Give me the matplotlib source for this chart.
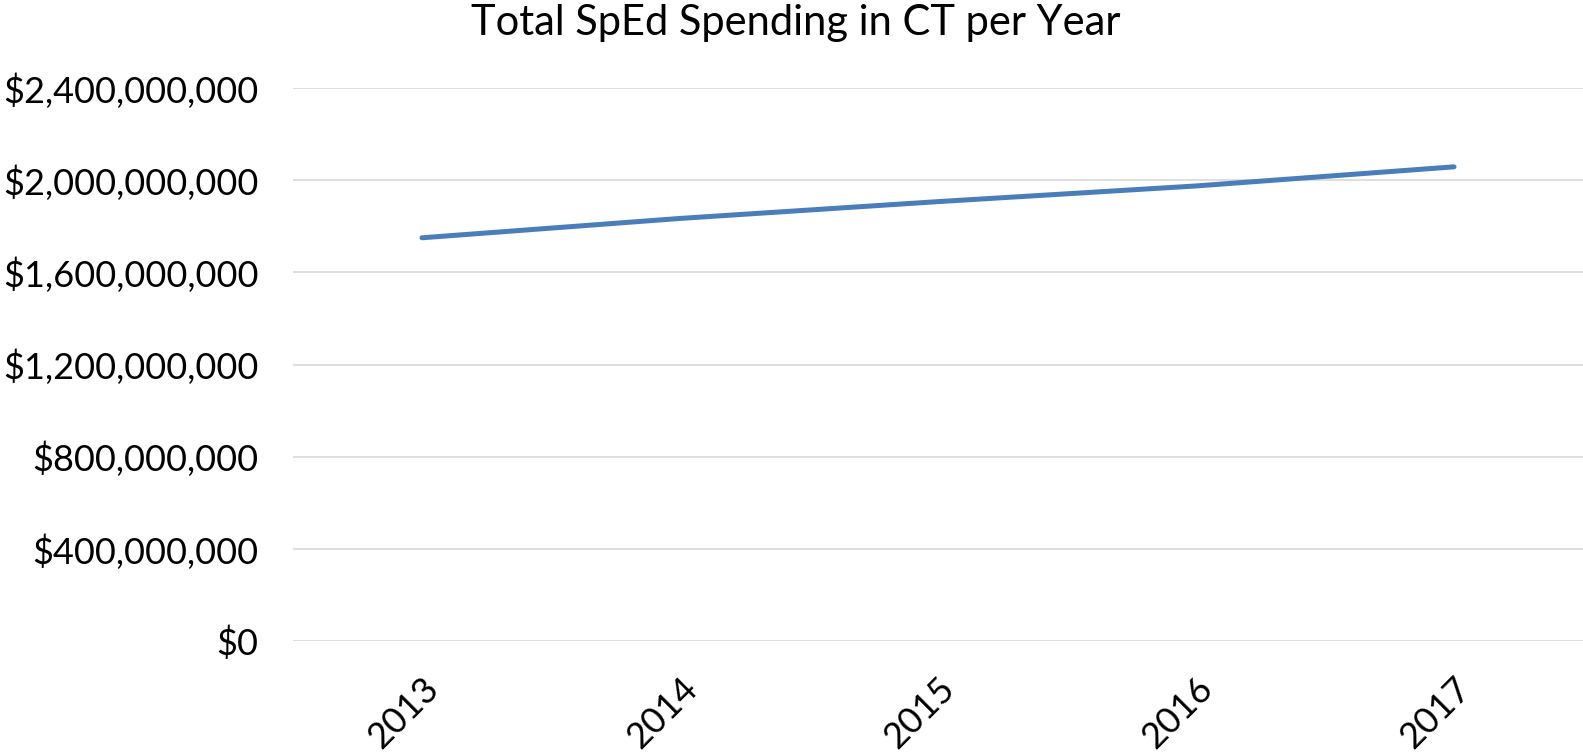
import matplotlib
matplotlib.use("Agg")
import matplotlib.pyplot as plt
from matplotlib.ticker import FuncFormatter

# spending per year
years = ["2013", "2014", "2015", "2016", "2017"]
spending = [1750000000, 1834000000, 1907000000, 1975000000, 2058000000]

y_ticks = [0, 400000000, 800000000, 1200000000, 1600000000, 2000000000, 2400000000]

plt.rcParams["font.family"] = ["Lato", "DejaVu Sans"]

fig = plt.figure(figsize=(15.83, 7.55), dpi=100)
ax = fig.add_axes([293 / 1583, 0.151, 1 - 293 / 1583, 0.7324])

x = list(range(len(years)))
ax.plot(x, spending, color="#4a7ebb", linewidth=3.6, solid_capstyle="round")

ax.set_xlim(-0.5, len(years) - 0.5)
ax.set_ylim(0, 2400000000)
ax.set_yticks(y_ticks)
ax.yaxis.set_major_formatter(FuncFormatter(lambda v, p: "${:,.0f}".format(v)))
ax.set_xticks(x)
ax.set_xticklabels(years, rotation=45, ha="right", rotation_mode="anchor")

ax.grid(axis="y", color="#d9d9d9", linewidth=1.2)
ax.set_axisbelow(True)
for side in ["top", "right", "left", "bottom"]:
    ax.spines[side].set_visible(False)
ax.tick_params(axis="both", length=0, labelsize=26, colors="black")
ax.tick_params(axis="y", pad=25)
ax.tick_params(axis="x", pad=22)

fig.text(0.503, 0.969, "Total SpEd Spending in CT per Year", ha="center", va="center", fontsize=30)

fig.savefig("out.png", dpi=100)
